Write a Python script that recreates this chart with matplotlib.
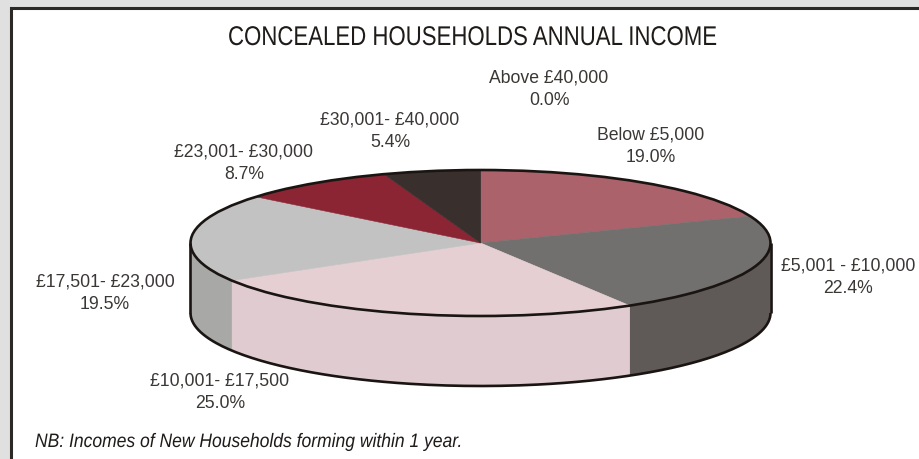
"""Tilted pie of concealed household income bands, drawn with a solid side wall."""
import numpy as np
import matplotlib
matplotlib.use("Agg")
import matplotlib.pyplot as plt
from matplotlib.patches import Ellipse, Polygon, Rectangle
from matplotlib.patheffects import AbstractPathEffect
from matplotlib.transforms import Affine2D

plt.rcParams["font.family"] = ["Liberation Sans", "DejaVu Sans"]

bands = ["Below £5,000", "£5,001 - £10,000", "£10,001- £17,500", "£17,501- £23,000",
         "£23,001- £30,000", "£30,001- £40,000", "Above £40,000"]
shares = [19.0, 22.4, 25.0, 19.5, 8.7, 5.4, 0.0]
top_colors = ["#ab626b", "#72706e", "#e5cfd3", "#c2c2c2", "#8b2533", "#39302e", "#39302e"]
wall_colors = ["#8a4a52", "#5f5a58", "#e0ccd0", "#a8a8a6", "#6e1c28", "#2c2523", "#2c2523"]

W, H = 919, 459
CX, CY = 480.5, 243
RX, RY = 290, 73
DEPTH = 70 / RY  # wall height in pie units


class Condensed(AbstractPathEffect):
    """Squeeze glyphs horizontally, there is no narrow face installed."""

    def __init__(self, factor):
        super().__init__()
        self.factor = factor

    def draw_path(self, renderer, gc, tpath, affine, rgbFace=None):
        renderer.draw_path(gc, tpath, Affine2D().scale(self.factor, 1) + affine, rgbFace)


fig = plt.figure(figsize=(W / 100, H / 100), dpi=100, facecolor="#e0e0e0")

# panel in pixel coordinates
panel = fig.add_axes([0, 0, 1, 1], zorder=0)
panel.set_xlim(0, W)
panel.set_ylim(H, 0)
panel.axis("off")
panel.add_patch(Rectangle((10.5, 7.5), W + 20, H + 20, facecolor="white", edgecolor="#2b2826", lw=2.2))

# full-figure axes scaled so the unit pie becomes the flattened ellipse
ax = fig.add_axes([0, 0, 1, 1], zorder=1)
ax.patch.set_visible(False)

# side wall: only the front half of the rim (clockwise angle 90..270 from the top) shows
edges = np.cumsum([0] + shares) / sum(shares) * 360
for start, stop, color in zip(edges[:-1], edges[1:], wall_colors):
    lo, hi = max(start, 90), min(stop, 270)
    if hi <= lo:
        continue
    t = np.radians(np.linspace(lo, hi, 80))
    x, y = np.sin(t), np.cos(t)
    pts = np.r_[np.c_[x, y], np.c_[x, y - DEPTH][::-1]]
    ax.add_patch(Polygon(pts, closed=True, facecolor=color, edgecolor=color, lw=0.3))

t = np.radians(np.linspace(90, 270, 200))
ax.plot(np.sin(t), np.cos(t) - DEPTH, color="#1a1513", lw=1.9, solid_capstyle="butt")
ax.plot([1, 1], [0, -DEPTH], color="#1a1513", lw=1.9, solid_capstyle="butt")
ax.plot([-1, -1], [0, -DEPTH], color="#1a1513", lw=1.9, solid_capstyle="butt")

wedges, _ = ax.pie(shares, colors=top_colors, startangle=90, counterclock=False, radius=1,
                   wedgeprops={"linewidth": 0.4})
for wedge in wedges:
    wedge.set_edgecolor(wedge.get_facecolor())
ax.add_patch(Ellipse((0, 0), 2, 2, facecolor="none", edgecolor="#1a1513", lw=1.9, zorder=5))

ax.set_aspect("auto")
ax.set_xlim(-CX / RX, (W - CX) / RX)
ax.set_ylim((CY - H) / RY, CY / RY)
ax.axis("off")

# text sits on top, placed in pixel coordinates
text_ax = fig.add_axes([0, 0, 1, 1], zorder=2)
text_ax.patch.set_visible(False)
text_ax.set_xlim(0, W)
text_ax.set_ylim(H, 0)
text_ax.axis("off")

label_pos = [(651, 146.5), (848, 277), (220, 392), (105, 293.5), (244, 163.5), (390, 131.5), (549, 89.5)]
for band, share, (px, py) in zip(bands, shares, label_pos):
    text_ax.text(px, py, f"{band}\n{share:.1f}%", ha="center", va="center",
                 fontsize=12.7, color="#3a3735", linespacing=1.4)

text_ax.text(228, 45, "CONCEALED HOUSEHOLDS ANNUAL INCOME", ha="left", va="baseline",
             fontsize=19.5, color="#1f1b19", path_effects=[Condensed(0.82)])
text_ax.text(35, 447, "NB: Incomes of New Households forming within 1 year.", ha="left", va="baseline",
             fontsize=14, style="italic", color="#1f1b19", path_effects=[Condensed(0.9)])

fig.savefig("out.png", dpi=100, facecolor=fig.get_facecolor())
